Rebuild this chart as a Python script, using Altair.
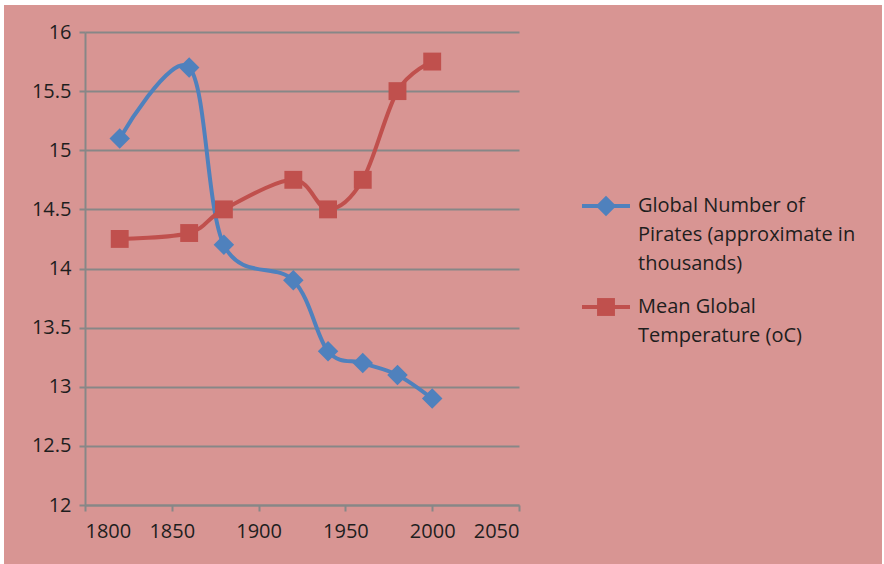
import altair as alt
import pandas as pd

# Years sampled for both series
years = [1820, 1860, 1880, 1920, 1940, 1960, 1980, 2000]
# Global number of pirates (approximate, in thousands)
pirates = [15.1, 15.7, 14.2, 13.9, 13.3, 13.2, 13.1, 12.9]
# Mean global temperature (degrees C)
temperature = [14.25, 14.3, 14.5, 14.75, 14.5, 14.75, 15.5, 15.75]

series_names = [
    "Global Number of Pirates (approximate in thousands)",
    "Mean Global Temperature (oC)",
]
legend_lines = [
    ["Global Number of", "Pirates (approximate in", "thousands)"],
    ["Mean Global", "Temperature (oC)"],
]

BLUE = "#4F81BD"
RED = "#C0504D"
GRID = "#878787"
PINK = "#D89593"
TEXT = "#1E1E1E"
FONT = "Open Sans"

W, H = 434, 473

df_p = pd.DataFrame({"year": years, "value": pirates})
df_t = pd.DataFrame({"year": years, "value": temperature})

x = alt.X(
    "year:Q",
    scale=alt.Scale(domain=[1800, 2050], nice=False, zero=False),
    axis=alt.Axis(
        values=[1800, 1850, 1900, 1950, 2000, 2050],
        format="d",
        grid=False,
        title=None,
        domainColor=GRID,
        domainWidth=2,
        tickColor=GRID,
        tickWidth=2,
        tickSize=6,
        labelFontSize=20,
        labelFont=FONT,
        labelColor=TEXT,
        labelPadding=10,
    ),
)
y = alt.Y(
    "value:Q",
    scale=alt.Scale(domain=[12, 16], nice=False, zero=False),
    axis=alt.Axis(
        values=[12, 12.5, 13, 13.5, 14, 14.5, 15, 15.5, 16],
        labelExpr="format(datum.value, '~g')",
        grid=True,
        gridColor=GRID,
        gridWidth=2,
        gridOpacity=1,
        title=None,
        domainColor=GRID,
        domainWidth=2,
        tickColor=GRID,
        tickWidth=2,
        tickSize=6,
        labelFontSize=20,
        labelFont=FONT,
        labelColor=TEXT,
        labelPadding=8,
    ),
)

one = pd.DataFrame({"k": [0]})

line_p = alt.Chart(df_p).mark_line(
    color=BLUE, strokeWidth=4, interpolate="cardinal", tension=0
).encode(x=x, y=y)
pts_p = alt.Chart(df_p).mark_point(
    shape="diamond", size=420, filled=True, color=BLUE, opacity=1
).encode(x="year:Q", y="value:Q")

line_t = alt.Chart(df_t).mark_line(
    color=RED, strokeWidth=4, interpolate="cardinal", tension=0
).encode(x="year:Q", y="value:Q")
pts_t = alt.Chart(df_t).mark_point(
    shape="square", size=320, filled=True, color=RED, opacity=1
).encode(x="year:Q", y="value:Q")

# Thin white frame around the pink panel
frame = alt.Chart(one).mark_rect(fill=None, stroke="white", strokeWidth=8).encode(
    x=alt.value(-85), x2=alt.value(801), y=alt.value(-31), y2=alt.value(540)
)

# Legend on the right
leg_layers = []
for name, lines, color, shape, size, ly in [
    (series_names[0], legend_lines[0], BLUE, "diamond", 420, 174),
    (series_names[1], legend_lines[1], RED, "square", 320, 275),
]:
    leg_layers.append(
        alt.Chart(one).mark_rule(color=color, strokeWidth=4).encode(
            x=alt.value(497), x2=alt.value(545), y=alt.value(ly)
        )
    )
    leg_layers.append(
        alt.Chart(one).mark_point(
            shape=shape, size=size, filled=True, color=color, opacity=1
        ).encode(x=alt.value(521), y=alt.value(ly))
    )
    leg_layers.append(
        alt.Chart(one).mark_text(
            text=lines,
            align="left",
            baseline="middle",
            font=FONT,
            fontSize=20,
            color=TEXT,
            lineHeight=29,
        ).encode(x=alt.value(553), y=alt.value(ly))
    )

chart = (
    alt.layer(line_p, line_t, pts_p, pts_t, *leg_layers, frame)
    .properties(
        width=W,
        height=H,
        autosize=alt.AutoSizeParams(type="none"),
        padding={"left": 85, "top": 32, "right": 365, "bottom": 59},
        background=PINK,
    )
    .configure_view(stroke=None)
)

chart.save("out.html", embed_options={"renderer": "svg", "actions": False})
